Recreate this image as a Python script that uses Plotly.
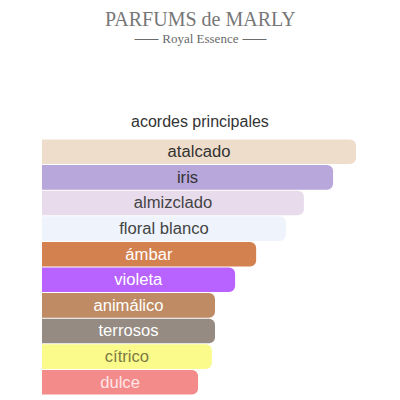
"""Main accords bar chart (acordes principales) for Parfums de Marly - Royal Essence."""

import plotly.graph_objects as go

ACCORDS = [
    "atalcado",
    "iris",
    "almizclado",
    "floral blanco",
    "ámbar",
    "violeta",
    "animálico",
    "terrosos",
    "cítrico",
    "dulce",
]
STRENGTH = [100, 92.7, 83.4, 77.7, 68.2, 61.5, 55.1, 55.1, 54.1, 49.7]
BAR_COLORS = [
    "#EFDDCB",
    "#B8A7DB",
    "#E8DBEC",
    "#EFF4FC",
    "#D3814F",
    "#B863FF",
    "#BE8B64",
    "#958B82",
    "#FAFB8A",
    "#F38B8B",
]
TEXT_COLORS = [
    "#333333",
    "#333333",
    "#444444",
    "#444444",
    "#FFFFFF",
    "#FFFFFF",
    "#FFFFFF",
    "#FFFFFF",
    "#7A7A45",
    "#FFE6E6",
]

FONT = "Liberation Sans, Arial, sans-serif"
SERIF = "Liberation Serif, Times New Roman, serif"

# the html body adds an 8px margin, so figure pixels = page pixels - 8
W, H = 400, 400
L, R, T, B = 34, 52, 131, 13

fig = go.Figure(
    go.Bar(
        x=STRENGTH,
        y=ACCORDS,
        orientation="h",
        text=ACCORDS,
        textposition="inside",
        insidetextanchor="middle",
        constraintext="none",
        textfont=dict(family=FONT, size=17, color=TEXT_COLORS),
        marker=dict(color=BAR_COLORS, line_width=0, cornerradius=6),
        hoverinfo="skip",
    )
)


def header(text, row, size, family, color):
    """Text centred on the page at a given pixel row (page coordinates)."""
    return dict(
        text=text,
        x=(200 - 8 - L) / (W - L - R),
        y=(H - B - (row - 8)) / (H - T - B),
        xref="paper", yref="paper",
        xanchor="center", yanchor="middle",
        showarrow=False,
        font=dict(family=family, size=size, color=color),
    )


fig.update_layout(
    width=W,
    height=H,
    margin=dict(l=L, r=R, t=T, b=B),
    paper_bgcolor="white",
    plot_bgcolor="white",
    bargap=0.04,
    showlegend=False,
    annotations=[
        header("acordes principales", 121, 16, FONT, "#333333"),
        header("PARFUMS de MARLY", 19, 20, SERIF, "#777777"),
        header("⸺ Royal Essence ⸺", 38, 13, SERIF, "#6a6a6a"),
    ],
)

fig.update_xaxes(range=[0, 100], visible=False, fixedrange=True)
fig.update_yaxes(autorange="reversed", visible=False, fixedrange=True)

fig.write_html("out.html")
